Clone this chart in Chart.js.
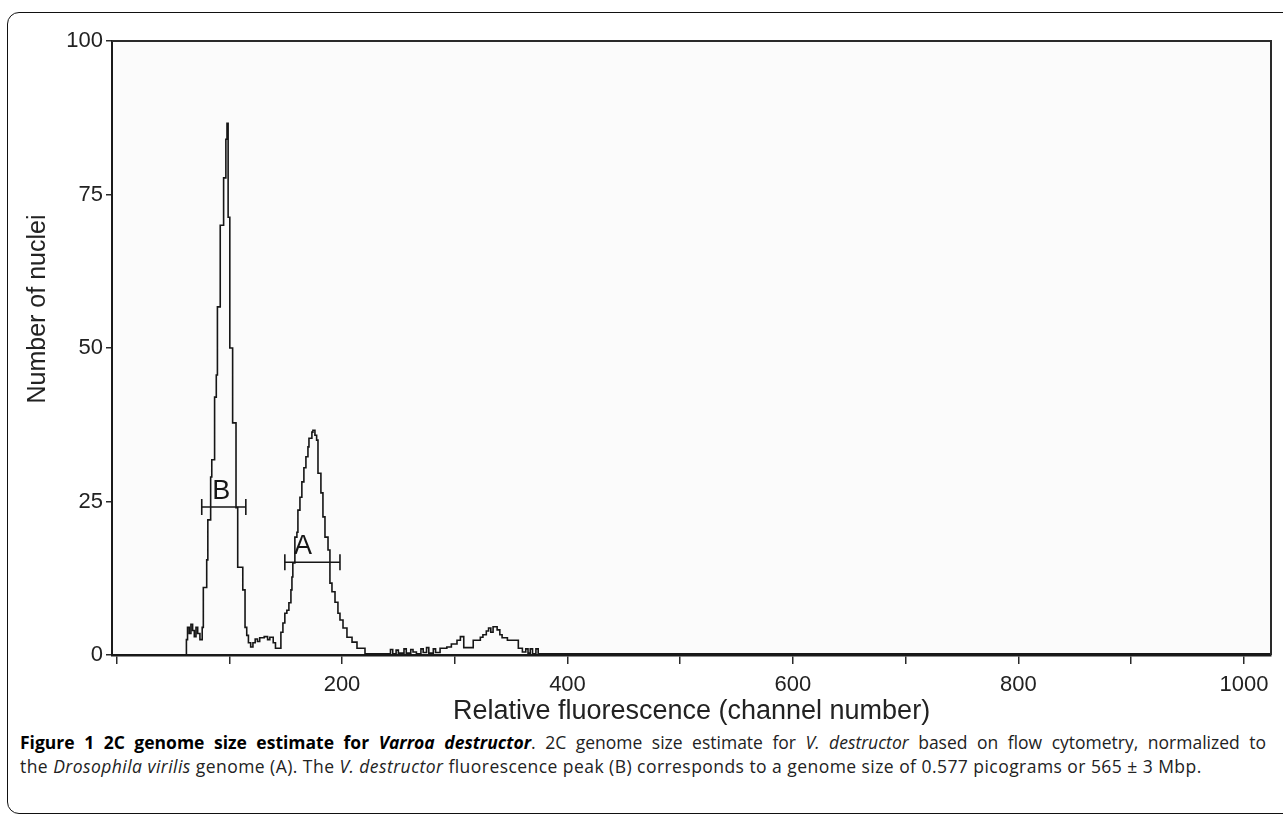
<!DOCTYPE html>
<html>
<head>
<meta charset="utf-8">
<script src="https://cdn.jsdelivr.net/npm/chart.js@4.4.1/dist/chart.umd.min.js"></script>
<style>
    body { margin: 0; background: #fff; width: 1283px; height: 819px; overflow: hidden; position: relative; }
    #frame { position: absolute; left: 7px; top: 12px; width: 1310px; height: 802px; border: 1.5px solid #111; border-radius: 12px; box-sizing: border-box; }
    #wrap { position: absolute; left: 0; top: 0; width: 1283px; height: 730px; }
    #caption { position: absolute; left: 20px; top: 730px; width: 1246px; font-family: 'Open Sans', sans-serif; font-size: 17.5px; line-height: 24px; color: #222; }
    #caption .l1 { text-align: justify; text-align-last: justify; white-space: nowrap; }
    #caption .l2 { letter-spacing: 0.45px; white-space: nowrap; }
    #caption b { color: #000; }
</style>
</head>
<body>
<div id="frame"></div>
<div id="wrap"><canvas id="chart"></canvas></div>
<div id="caption">
    <div class="l1"><b>Figure 1 2C genome size estimate for <i>Varroa destructor</i></b>. 2C genome size estimate for <i>V. destructor</i> based on flow cytometry, normalized to</div>
    <div class="l2">the <i>Drosophila virilis</i> genome (A). The <i>V. destructor</i> fluorescence peak (B) corresponds to a genome size of 0.577 picograms or 565 &plusmn; 3 Mbp.</div>
</div>
<script>
// histogram steps: each count holds from its channel until the next one
const channels = [0, 62, 63, 64.5, 66, 67.5, 69, 70.5, 72, 74, 76, 77, 80, 81, 83.5, 84.5, 87, 88.5, 89.5, 92,
    95, 97, 98, 99, 100.5, 103, 106, 107.5, 112, 114, 115.5, 117, 119, 121, 123, 125, 127, 131, 134, 136,
    139, 141, 145.8, 147.6, 149.3, 151.1, 152.9, 154.7, 155.6, 156.4, 158.2, 160, 160.9, 162.7, 164.4, 166.2, 168, 169.8, 170.7, 173.3,
    174.2, 176, 177.5, 178.7, 181.3, 183.1, 184.9, 187.6, 189.3, 191.1, 193.8, 196.4, 198.2, 200.9, 204.4, 208.9, 213.3, 220.4,
    243, 245, 248, 250, 255, 257, 261, 263, 266, 270, 272, 275, 277, 281, 283, 287, 290, 293, 297, 302,
    305, 308, 316.4, 322.7, 325, 328, 330, 332, 334, 337.6, 340, 342, 346.7, 356.4, 360, 363, 365, 367, 369, 372,
    374, 1024];
const counts = [0, 2.5, 4.5, 3.5, 5, 4, 3, 4.5, 3.5, 2.5, 4.5, 11, 15.5, 22, 29, 31.8, 42, 45.6, 56.7, 70,
    77.7, 84, 86.6, 71.3, 50, 37.8, 24, 14.3, 10.6, 4.5, 3.2, 2, 1.3, 2, 2.6, 2.2, 2.8, 3, 2.5, 2.9,
    2, 1.1, 3.7, 5.2, 6.8, 7.3, 8.5, 10.6, 12.7, 15, 19.2, 20, 23.6, 25.7, 28.2, 30.5, 32.3, 33.9, 35.3, 36.3,
    36.6, 35.8, 35, 29.6, 26.4, 22.5, 19.2, 17.1, 11.7, 10.3, 8.6, 6.8, 5.7, 4.4, 2.9, 2.1, 1.1, 0.2,
    0.9, 0.2, 0.8, 0.3, 1, 0.3, 0.9, 0.5, 0.2, 1, 0.4, 1.2, 0.3, 1, 0.4, 1.1, 1.1, 1.3, 1.8, 2.4,
    3, 1.2, 2.4, 2.9, 3.3, 3.9, 4.4, 3.7, 4.6, 4.1, 3.3, 2.8, 2.4, 1.1, 0.5, 1, 0.3, 1, 0.2, 1,
    0.2, 0.2];

const xTickValues = [0, 100, 200, 300, 400, 500, 600, 700, 800, 900, 1000];
const xLabelled = [200, 400, 600, 800, 1000];
const yTickValues = [0, 25, 50, 75, 100];

// gated regions drawn as bars with end caps
const gateNames = ['B', 'A'];
const gateFrom = [75.6, 149.3];
const gateTo = [114.7, 198.2];
const gateLevel = [24.1, 15.1];
const gateLabelAt = [93, 165.5];

const ink = '#161616';

const histogram = channels.map((c, i) => ({ x: c, y: counts[i] }));

const gateSets = gateNames.map((name, i) => ({
    label: 'Gate ' + name,
    data: [{ x: gateFrom[i], y: gateLevel[i] }, { x: gateTo[i], y: gateLevel[i] }],
    borderColor: ink,
    borderWidth: 1.6,
    pointStyle: 'line',
    rotation: 90,
    pointRadius: 8,
    pointBorderColor: ink,
    pointBorderWidth: 1.6
}));

const decor = {
    id: 'decor',
    beforeDraw(chart) {
        const { ctx, chartArea: a } = chart;
        ctx.save();
        ctx.fillStyle = '#fbfbfb';
        ctx.fillRect(a.left, a.top, a.right - a.left, a.bottom - a.top);
        ctx.restore();
    },
    afterDraw(chart) {
        const { ctx, chartArea: a, scales } = chart;
        ctx.save();
        // box closing the plot on top and right
        ctx.strokeStyle = '#2a2a2a';
        ctx.lineWidth = 2;
        ctx.beginPath();
        ctx.moveTo(a.left, a.top);
        ctx.lineTo(a.right, a.top);
        ctx.lineTo(a.right, a.bottom);
        ctx.stroke();

        // gate letters
        ctx.fillStyle = ink;
        ctx.font = '27px "Liberation Sans", Arial, sans-serif';
        ctx.textAlign = 'center';
        ctx.textBaseline = 'alphabetic';
        gateNames.forEach((name, i) => {
            ctx.fillText(name, scales.x.getPixelForValue(gateLabelAt[i]), scales.y.getPixelForValue(gateLevel[i]) - 8);
        });

        // y axis title
        ctx.translate(45, 309);
        ctx.rotate(-Math.PI / 2);
        ctx.font = '25px "Liberation Sans", Arial, sans-serif';
        ctx.fillStyle = '#222';
        ctx.fillText('Number of nuclei', 0, 0);
        ctx.restore();
    }
};

document.addEventListener('DOMContentLoaded', () => {
    const ctx = document.getElementById('chart').getContext('2d');

    new Chart(ctx, {
        type: 'line',
        data: {
            datasets: [{
                label: 'Nuclei',
                data: histogram,
                stepped: true,
                borderColor: ink,
                borderWidth: 1.6,
                pointRadius: 0,
                fill: false
            }, ...gateSets]
        },
        options: {
            responsive: true,
            maintainAspectRatio: false,
            animation: false,
            layout: { padding: { left: 0, top: 41, right: 12, bottom: 0 } },
            plugins: {
                legend: { display: false },
                tooltip: { enabled: false }
            },
            scales: {
                x: {
                    type: 'linear',
                    min: -4,
                    max: 1024,
                    afterBuildTicks: (scale) => { scale.ticks = xTickValues.map(v => ({ value: v })); },
                    afterFit: (scale) => { scale.height = 75; },
                    ticks: {
                        autoSkip: false,
                        maxRotation: 0,
                        padding: 8,
                        color: '#222',
                        font: { family: '"Liberation Sans", Arial, sans-serif', size: 22 },
                        callback: (v) => xLabelled.includes(v) ? String(v) : ''
                    },
                    grid: { drawOnChartArea: false, drawTicks: true, tickLength: 9, color: '#2a2a2a', lineWidth: 1.5 },
                    border: { display: true, color: '#1a1a1a', width: 2.5 },
                    title: {
                        display: true,
                        text: 'Relative fluorescence (channel number)',
                        color: '#222',
                        font: { family: '"Liberation Sans", Arial, sans-serif', size: 27 },
                        padding: { top: 0, bottom: 2 }
                    }
                },
                y: {
                    min: 0,
                    max: 100,
                    afterBuildTicks: (scale) => { scale.ticks = yTickValues.map(v => ({ value: v })); },
                    afterFit: (scale) => { scale.width = 112; },
                    ticks: {
                        padding: 3,
                        color: '#222',
                        font: { family: '"Liberation Sans", Arial, sans-serif', size: 22 }
                    },
                    grid: { drawOnChartArea: false, drawTicks: true, tickLength: 6, color: '#2a2a2a', lineWidth: 1.5 },
                    border: { display: true, color: '#1a1a1a', width: 2 }
                }
            }
        },
        plugins: [decor]
    });
});
</script>
</body>
</html>
